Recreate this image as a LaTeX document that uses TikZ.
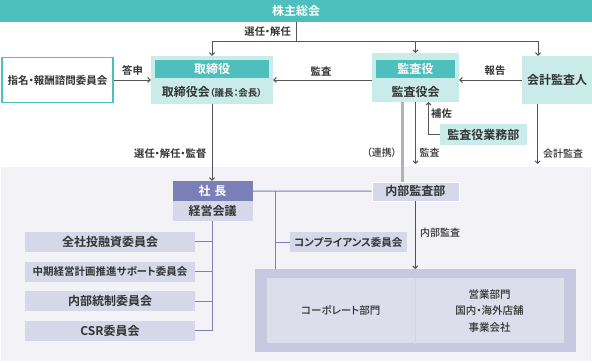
\documentclass[tikz,border=0pt]{standalone}
\usepackage{fontspec}
\IfFontExistsTF{Noto Sans CJK JP Medium}
  {\setmainfont{Noto Sans CJK JP Medium}[RawFeature=+palt, BoldFont={Noto Sans CJK JP Bold}]}
  {\setmainfont{Noto Sans CJK JP}[RawFeature=+palt]}
\usepackage{xcolor}
\definecolor{boardteal}{HTML}{4DBFBC}
\definecolor{paleteal}{HTML}{C9ECEB}
\definecolor{execblue}{HTML}{7A7FB8}
\definecolor{paleblue}{HTML}{D6D8E9}
\definecolor{deptouter}{HTML}{C6C9DF}
\definecolor{deptinner}{HTML}{DCDEEC}
\definecolor{areabg}{HTML}{F2F2F7}
\definecolor{inkgray}{HTML}{333333}
\definecolor{arrowgray}{HTML}{555555}
\usetikzlibrary{arrows.meta}

\begin{document}
\begin{tikzpicture}[x=1pt, y=-1pt,
    every node/.style={inner sep=0pt, text=inkgray},
    bar/.style={fill=boardteal, text=white, minimum width=592pt, minimum height=22pt, font=\fontsize{12}{12}\selectfont\bfseries},
    outer/.style={fill=paleteal, minimum height=48pt},
    hd/.style={fill=boardteal, text=white, minimum height=18pt, font=\fontsize{12}{12}\selectfont\bfseries},
    exhd/.style={fill=execblue, text=white, minimum width=80pt, minimum height=20pt, font=\fontsize{12}{12}\selectfont\bfseries},
    exbox/.style={fill=paleblue, minimum height=20pt, font=\fontsize{12}{12}\selectfont\bfseries},
    big/.style={font=\fontsize{12}{12}\selectfont\bfseries},
    lbl/.style={font=\fontsize{10.3}{11}\selectfont\bfseries},
    sublbl/.style={font=\fontsize{10}{10}\selectfont},
    arr/.style={-{Straight Barb[length=2.5pt,width=5pt]}, line width=1pt, arrowgray},
    bl/.style={line width=1pt, execblue},
    renkei/.style={line width=3pt, gray!60}
]
% Executive area
\fill[areabg] (1,167) rectangle (591,361);
\coordinate (execline) at (0,164);

% Shareholders
\node[bar] (agm) at (296,11) {株主総会};

% Board and auditors
\node[draw=boardteal, line width=1.5pt, fill=white, minimum width=111pt, minimum height=45pt, font=\fontsize{10.5}{10.5}\selectfont\bfseries] (nomi) at (57.5,80) {指名・報酬諮問委員会};
\node[outer, minimum width=122pt] (board) at (212,80) {};
\node[hd, minimum width=114pt] (boardhd) at (212,69) {取締役};
\node[big] (boardtxt) at (212,92) {取締役会{\fontsize{9.5}{10}\selectfont（議長：会長）}};
\node[outer, minimum width=87pt, minimum height=48.4pt] (audit) at (415.5,77.5) {};
\node[hd, minimum width=79pt] (audithd) at (415.3,69) {監査役};
\node[big] (audittxt) at (415.5,92) {監査役会};
\node[outer, minimum width=70pt, big] (kaikei) at (557,80) {会計監査人};
\node[fill=paleteal, minimum width=87pt, minimum height=21pt, big] (gyomu) at (483.3,134.5) {監査役業務部};

% Election
\draw[arrowgray, line width=1pt] (agm.south) -- (296,41) coordinate (sel);
\draw[arr] (sel) -| (board.north);
\draw[arr] (sel) -| (audit.north);
\draw[arr] (sel) -| ([xshift=-19pt]kaikei.north);
\node[lbl, anchor=east] (senin) at (291,31.5) {選任・解任};

\draw[arr] (nomi.east) -- (board.west);
\node[lbl] (toshin) at (132.5,71) {答申};
\draw[arr] (audit.west |- board.west) -- (board.east);
\node[lbl] (kansa1) at (321,71) {監査};
\draw[arr] (kaikei.west) -- (audit.east |- kaikei.west);
\node[lbl] (hokoku) at (495,71) {報告};

% Audit lines
\node[exbox, draw=white, minimum width=87pt, minimum height=19pt] (naibu) at (415.3,191.2) {内部監査部};
\draw[renkei] ([xshift=-13pt]audit.south) -- ([xshift=-13pt]audit.south |- naibu.north);
\node[sublbl, anchor=east] (renkeilbl) at (397,153) {（連携）};
\draw[arr] (audit.south) -- (audit.south |- execline);
\node[sublbl, anchor=west] (kansa2) at (419.5,153) {監査};
\draw[arr] (gyomu.west) -| ([xshift=13pt]audit.south);
\node[lbl, anchor=west] (hosa) at (431,114) {補佐};
\draw[arr] ([xshift=-19.5pt]kaikei.south) -- ([xshift=-19.5pt]kaikei.south |- execline);
\node[sublbl, anchor=west] (kaikeikansa) at (543,154) {会計監査};

% President
\node[exhd] (shacho) at (212.5,191) {社\hspace{4pt}長};
\node[exbox, minimum width=80pt] (keiei) at (212.5,211) {経営会議};
\draw[arr] (board.south) -- (board.south |- shacho.north);
\node[lbl, anchor=east] (kantoku) at (206.5,154) {選任・解任・監督};

% Committees
\node[exbox, minimum width=170pt] (c1) at (110,241.5) {全社投融資委員会};
\node[exbox, minimum width=170pt, font=\fontsize{10.5}{10.5}\selectfont\bfseries] (c2) at (110,271.5) {中期経営計画推進サポート委員会};
\node[exbox, minimum width=170pt] (c3) at (110,301.3) {内部統制委員会};
\node[exbox, minimum width=170pt] (c4) at (110,330.7) {CSR委員会};
\draw[bl] (keiei.south) -- (keiei.south |- c4.east);
\foreach \c in {c1,c2,c3,c4}
  \draw[bl] (keiei.south |- \c.east) -- (\c.east);

% Departments
\node[fill=deptouter, minimum width=321pt, minimum height=82.4pt] (dept) at (415.5,310.5) {};
\node[fill=deptinner, minimum width=148.3pt, minimum height=65pt, font=\fontsize{10.5}{10.5}\selectfont] (corp) at (340.8,310.8) {コーポレート部門};
\node[fill=deptinner, minimum width=149pt, minimum height=65pt, align=center, font=\fontsize{10.5}{16.5}\selectfont] (sales) at (489.5,310.8) {営業部門\\国内・海外店舗\\事業会社};
\draw[deptouter!80!white, line width=1pt] (corp.north east) -- (corp.south east);

\node[exbox, minimum width=116.7pt, font=\fontsize{10.5}{10.5}\selectfont\bfseries] (comp) at (348.3,242.3) {コンプライアンス委員会};
\draw[bl] (shacho.east) -- (naibu.west);
\coordinate (tap) at (275.5,191);
\draw[bl] (tap) -- (tap |- dept.north);
\draw[bl] (tap |- comp.west) -- (comp.west);
\draw[arr] (naibu.south) -- (naibu.south |- dept.north);
\node[sublbl, anchor=west] (naibukansa) at (420,233) {内部監査};

\useasboundingbox (0,0) rectangle (592,362);
\end{tikzpicture}
\end{document}
